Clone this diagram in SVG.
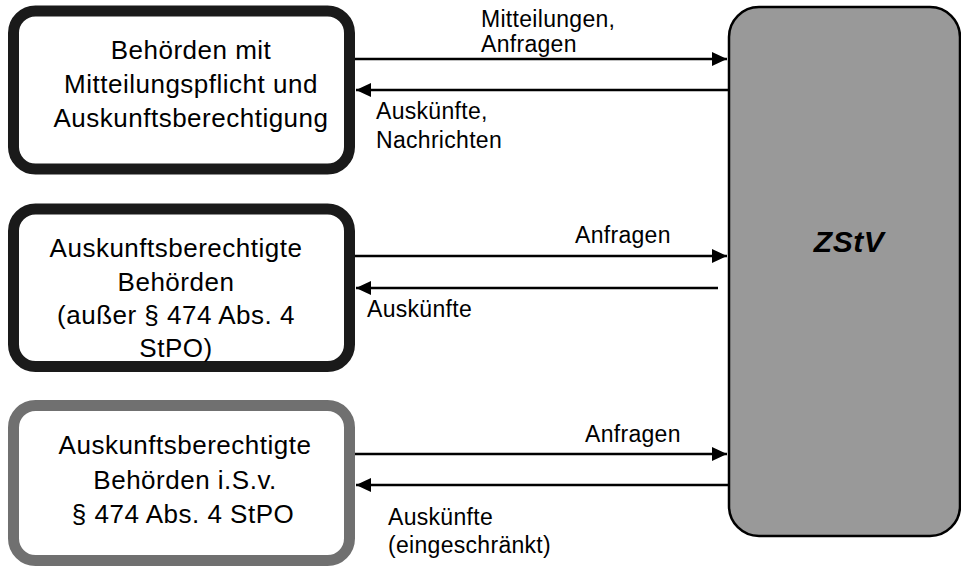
<svg xmlns="http://www.w3.org/2000/svg" width="961" height="568" viewBox="0 0 961 568">
<defs>
<style>
.box{fill:#ffffff;stroke-width:11}
.bt{font-family:"Liberation Sans",Arial,sans-serif;font-size:26px;letter-spacing:0.5px;fill:#000;text-anchor:middle}
.lbl{font-family:"Liberation Sans",Arial,sans-serif;font-size:23px;letter-spacing:0.3px;fill:#000}
.conn{stroke:#000;stroke-width:2.5;fill:none}
</style>
<marker id="ah" markerUnits="userSpaceOnUse" markerWidth="16" markerHeight="16" viewBox="0 0 16 16" refX="15" refY="8" orient="auto">
<path d="M0,1 L15,8 L0,15 Z" fill="#000"/>
</marker>
</defs>
<rect width="961" height="568" fill="#ffffff"/>
<g id="zstv">
<rect x="729" y="7" width="231" height="529" rx="30" ry="30" fill="#999999" stroke="#000" stroke-width="2.5"/>
<text x="849" y="252" font-family="'Liberation Sans',Arial,sans-serif" font-size="30" font-weight="bold" font-style="italic" letter-spacing="0.5" text-anchor="middle">ZStV</text>
</g>
<g id="box1">
<rect class="box" x="13.5" y="11" width="336" height="158" rx="22" ry="22" stroke="#1a1a1a"/>
<text class="bt" x="191" y="59">Behörden mit</text>
<text class="bt" x="191" y="93">Mitteilungspflicht und</text>
<text class="bt" x="191" y="127">Auskunftsberechtigung</text>
</g>
<g id="box2">
<rect class="box" x="13.5" y="209" width="336" height="157.5" rx="22" ry="22" stroke="#1a1a1a"/>
<text class="bt" x="176" y="257">Auskunftsberechtigte</text>
<text class="bt" x="176" y="291">Behörden</text>
<text class="bt" x="176" y="324">(außer § 474 Abs. 4</text>
<text class="bt" x="176" y="357">StPO)</text>
</g>
<g id="box3">
<rect class="box" x="13.5" y="405.5" width="336" height="155" rx="22" ry="22" stroke="#707070"/>
<text class="bt" x="185" y="454">Auskunftsberechtigte</text>
<text class="bt" x="185" y="489">Behörden i.S.v.</text>
<text class="bt" x="183" y="523">§ 474 Abs. 4 StPO</text>
</g>
<g id="connectors">
<line class="conn" x1="355" y1="59" x2="727" y2="59" marker-end="url(#ah)"/>
<line class="conn" x1="728" y1="90" x2="356" y2="90" marker-end="url(#ah)"/>
<line class="conn" x1="355" y1="256" x2="727" y2="256" marker-end="url(#ah)"/>
<line class="conn" x1="718" y1="288" x2="356" y2="288" marker-end="url(#ah)"/>
<line class="conn" x1="355" y1="454" x2="727" y2="454" marker-end="url(#ah)"/>
<line class="conn" x1="728" y1="485" x2="356" y2="485" marker-end="url(#ah)"/>
<text class="lbl" x="481" y="27">Mitteilungen,</text>
<text class="lbl" x="481" y="52">Anfragen</text>
<text class="lbl" x="376" y="119">Auskünfte,</text>
<text class="lbl" x="376" y="148">Nachrichten</text>
<text class="lbl" x="575" y="243">Anfragen</text>
<text class="lbl" x="367" y="317">Auskünfte</text>
<text class="lbl" x="585" y="442">Anfragen</text>
<text class="lbl" x="388" y="525">Auskünfte</text>
<text class="lbl" x="388" y="553">(eingeschränkt)</text>
</g>
</svg>
